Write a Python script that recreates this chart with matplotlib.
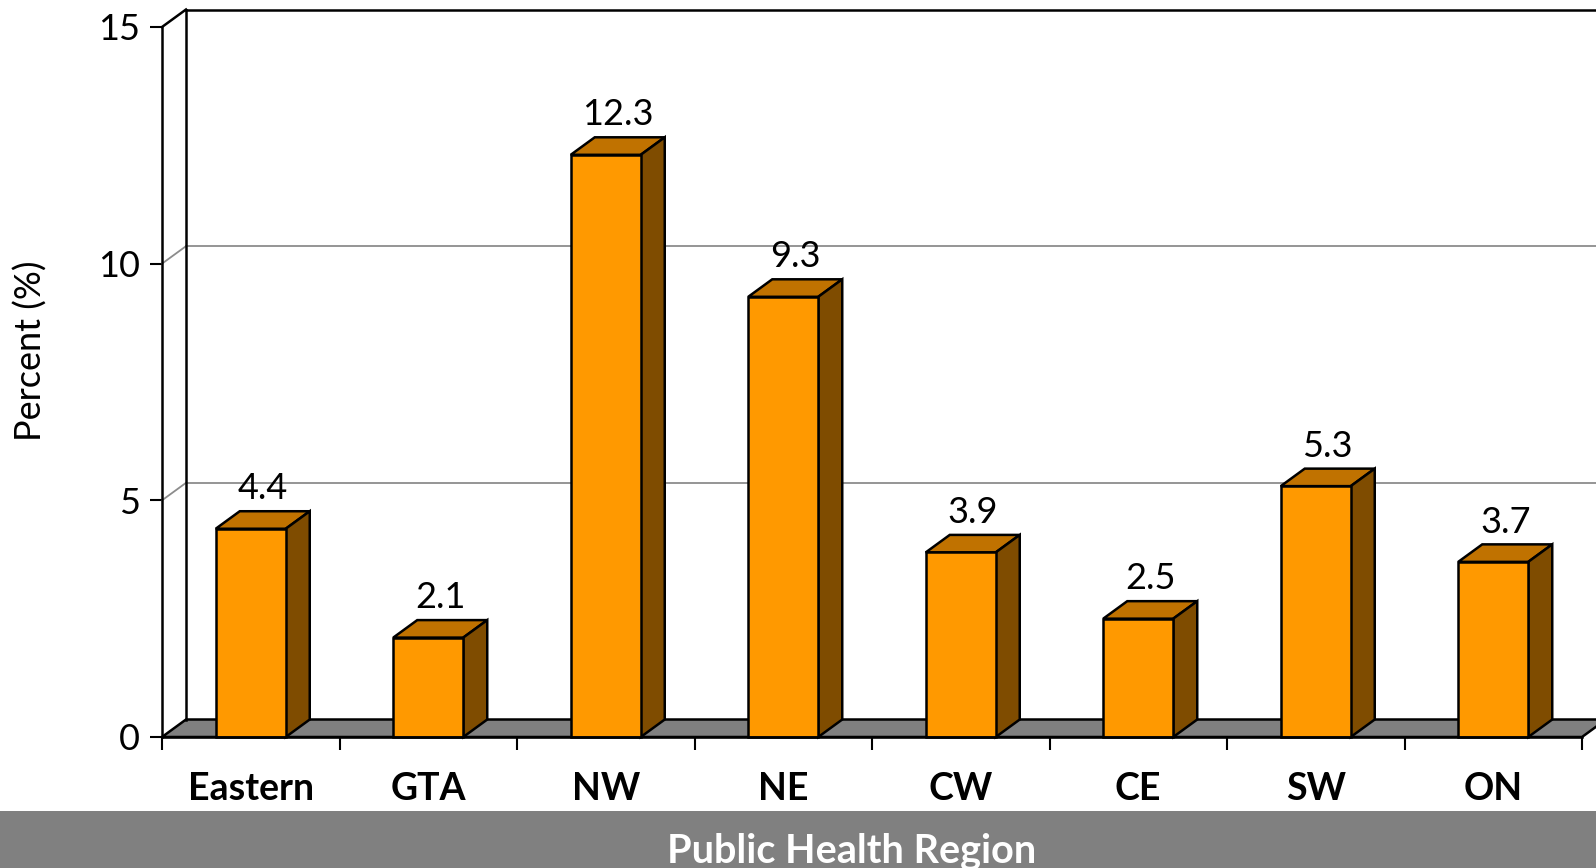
import matplotlib
matplotlib.use("Agg")
import matplotlib.pyplot as plt
from matplotlib.patches import Polygon, Rectangle
from matplotlib.lines import Line2D

# ---- data ----
regions = ["Eastern", "GTA", "NW", "NE", "CW", "CE", "SW", "ON"]
percent = [4.4, 2.1, 12.3, 9.3, 3.9, 2.5, 5.3, 3.7]
y_ticks = [0, 5, 10, 15]
x_title = "Public Health Region"
y_title = "Percent (%)"

# ---- style ----
FONT = ["Lato", "DejaVu Sans"]
plt.rcParams["font.family"] = FONT
FRONT = "#FF9900"
TOP = "#C07200"
SIDE = "#7F4C00"
FLOOR = "#808080"
GRID = "#8C8C8C"

W, H, DPI = 1596, 868, 100
fig = plt.figure(figsize=(W / DPI, H / DPI), dpi=DPI)
fig.patch.set_facecolor("white")

# axes frame: front plane in pixels
x0_px, x1_px, y0_px, y1_px = 162, 1582, 737, 27
ax = fig.add_axes([x0_px / W, 1 - y0_px / H, (x1_px - x0_px) / W, (y0_px - y1_px) / H])
n = len(regions)
ax.set_xlim(0, n)
ax.set_ylim(0, 15)
ax.set_facecolor("none")
for s in ["top", "right"]:
    ax.spines[s].set_visible(False)
ax.spines["left"].set_linewidth(1.8)
ax.spines["bottom"].set_linewidth(1.8)
ax.spines["left"].set_zorder(6)
ax.spines["bottom"].set_zorder(6)

# depth offset in data units (24 px right, 17.5 px up)
px_per_x = (x1_px - x0_px) / n
px_per_y = (y0_px - y1_px) / 15
dx = 24 / px_per_x
dy = 17.5 / px_per_y

# floor
floor = Polygon([(0, 0), (n, 0), (n + dx, dy), (dx, dy)], closed=True,
                facecolor=FLOOR, edgecolor="black", lw=1.8, clip_on=False, zorder=1)
ax.add_patch(floor)

# back wall lines
xr = n + 2
for t in y_ticks[1:]:
    col = "black" if t == y_ticks[-1] else GRID
    lw = 1.8 if t == y_ticks[-1] else 1.3
    ax.add_line(Line2D([0, dx], [t, t + dy], color=col, lw=lw, clip_on=False, zorder=2))
    ax.add_line(Line2D([dx, xr], [t + dy, t + dy], color=col, lw=lw, clip_on=False, zorder=2))
ax.add_line(Line2D([dx, dx], [dy, y_ticks[-1] + dy], color="black", lw=1.8, clip_on=False, zorder=2))

# bars
bw = 70 / px_per_x
xs = [i + 0.5 for i in range(n)]
ax.bar(xs, percent, width=bw, color=FRONT, edgecolor="black", linewidth=1.8, zorder=4, clip_on=False)
for x, v in zip(xs, percent):
    l, r = x - bw / 2, x + bw / 2
    top = Polygon([(l, v), (r, v), (r + dx, v + dy), (l + dx, v + dy)], closed=True,
                  facecolor=TOP, edgecolor="black", lw=1.8, zorder=3, clip_on=False)
    side = Polygon([(r, 0), (r + dx, dy), (r + dx, v + dy), (r, v)], closed=True,
                   facecolor=SIDE, edgecolor="black", lw=1.8, zorder=3, clip_on=False)
    ax.add_patch(top)
    ax.add_patch(side)
    ax.annotate(f"{v:.1f}", xy=(x + dx / 2, v + dy), xytext=(0, 8.5), textcoords="offset points",
                ha="center", va="baseline", fontsize=26, color="black", zorder=7)

# ticks
ax.set_yticks(y_ticks)
ax.set_yticklabels([str(t) for t in y_ticks], fontsize=26)
ax.tick_params(axis="y", length=9, width=1.5, pad=7, color="black")
ax.set_xticks(range(n + 1), minor=True)
ax.set_xticks(xs)
ax.set_xticklabels(regions, fontsize=27, fontweight="bold")
ax.tick_params(axis="x", which="major", length=0, pad=25)
ax.tick_params(axis="x", which="minor", length=9, width=1.5, color="black")

# y title
fig.text(31 / W, 1 - 351 / H, y_title, rotation=90, ha="center", va="center", fontsize=26)

# bottom band with title
band_top = 811
fig.patches.append(Rectangle((0, 0), 1, (H - band_top) / H, transform=fig.transFigure,
                             facecolor="#808080", edgecolor="none", zorder=0))
fig.text(852 / W, (H - 862) / H, x_title, ha="center", va="baseline", fontsize=28.5,
         fontweight="bold", color="white")

fig.savefig("out.png", dpi=DPI)
